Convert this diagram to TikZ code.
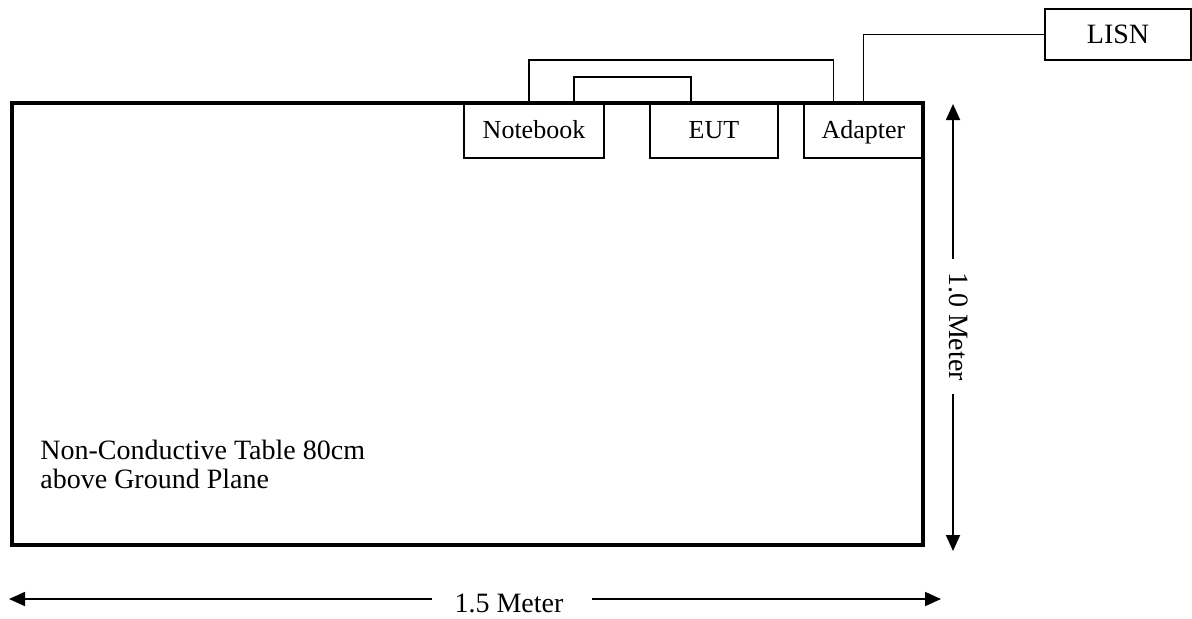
\documentclass[tikz,border=0pt]{standalone}
\usepackage{fontspec}
\setmainfont{Liberation Serif}
\usetikzlibrary{arrows.meta, positioning}

\tikzset{
    box/.style={draw, line width=0.75pt, inner sep=0pt, minimum height=27.5pt, text height=10pt, text depth=2.5pt, font=\fontsize{13}{15}\selectfont},
    wire/.style={line width=0.9pt},
    dimline/.style={line width=0.9pt, -{Triangle[length=8pt, width=7pt]}},
    dimtext/.style={inner sep=0pt, font=\fontsize{14}{14.5}\selectfont}
}

\begin{document}
\begin{tikzpicture}[x=0.5pt, y=-0.5pt]
            \useasboundingbox (0,0) rectangle (1192,618);
            \node[draw, line width=1.8pt, minimum width=455.5pt, minimum height=221pt, inner sep=0pt] (table) at (467.5,324) {};
            \node[dimtext, anchor=base west, align=left] (tabletext) at (40,488) {Non-Conductive Table 80cm\\above Ground Plane};
            \node[box, minimum width=70pt] (nb) at (534,130.5) {Notebook};
            \node[box, minimum width=64pt] (eut) at (714,130.5) {EUT};
            \node[box, minimum width=59.5pt] (ad) at (863.5,130.5) {Adapter};
            \node[box, minimum width=73pt, minimum height=25.5pt, text height=11pt, font=\fontsize{14}{16}\selectfont] (lisn) at (1118,34.5) {LISN};
            \draw[wire] ([xshift=-2.5pt]nb.north) -- ++(0,-42) -| ([xshift=-15pt]ad.north);
            \draw[wire] ([xshift=20pt]nb.north) -- ++(0,-25) -| ([xshift=-11.5pt]eut.north);
            \draw[wire] (ad.north) |- (lisn.west);
            % dimensions
            \coordinate (vtop) at (953,104);
            \coordinate (vbot) at (953,551);
            \node[dimtext, rotate=-90, inner xsep=6.5pt] (vlbl) at (959,326.5) {1.0 Meter};
            \draw[dimline] (vlbl.west -| vtop) -- (vtop);
            \draw[dimline] (vlbl.east -| vbot) -- (vbot);
            \coordinate (hleft) at (9,599);
            \coordinate (hright) at (941,599);
            \node[dimtext, inner xsep=0pt, anchor=base] (hlbl) at (509,612) {1.5 Meter};
            \draw[dimline] ([xshift=-11pt]hlbl.west |- hleft) -- (hleft);
            \draw[dimline] ([xshift=14pt]hlbl.east |- hright) -- (hright);
        \end{tikzpicture}
\end{document}
